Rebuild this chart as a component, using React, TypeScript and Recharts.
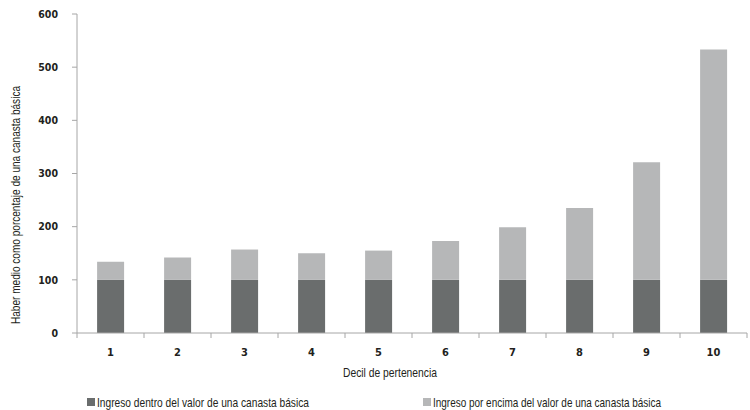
import { Bar, BarChart, Legend, XAxis, YAxis } from "recharts";

const deciles = ["1", "2", "3", "4", "5", "6", "7", "8", "9", "10"];
const dentro = [100, 100, 100, 100, 100, 100, 100, 100, 100, 100];
const encima = [34, 42, 57, 50, 55, 73, 99, 135, 221, 433];
const yTicks = [0, 100, 200, 300, 400, 500, 600];

const data = deciles.map((d, i) => ({ decil: d, dentro: dentro[i], encima: encima[i] }));

const W = 750;
const H = 410;
const M = { top: 14, right: 3, bottom: 32, left: 0 };
const Y_W = 77;
const BAND = (W - M.left - M.right - Y_W) / deciles.length;
const FONT = "'Liberation Sans', Arial, sans-serif";
const NUM_FONT = "'DejaVu Sans Condensed', 'Liberation Sans', sans-serif";
const DARK = "#6a6d6d";
const LIGHT = "#b6b7b8";
const AXIS = "#a6a6a6";
const TXT = "#231f20";

function XTick(props: any) {
  const { x, y, payload, index } = props;
  const last = index === deciles.length - 1;
  return (
    <g>
      <line x1={x - BAND / 2} x2={x - BAND / 2} y1={y} y2={y + 5} stroke={AXIS} />
      {last && <line x1={x + BAND / 2} x2={x + BAND / 2} y1={y} y2={y + 5} stroke={AXIS} />}
      <text x={x} y={y + 19} dy="0.35em" textAnchor="middle" fontSize={11} fontWeight="bold" fill={TXT} fontFamily={NUM_FONT}>
        {payload.value}
      </text>
    </g>
  );
}

function XTitle() {
  return (
    <text x={343} y={372} dy="0.35em" fontSize={13} fill={TXT} fontFamily={FONT}
      textLength={94} lengthAdjust="spacingAndGlyphs">
      Decil de pertenencia
    </text>
  );
}

function YTitle() {
  const cx = 15;
  const cy = 205;
  return (
    <text x={cx} y={cy} dy="0.35em" textAnchor="middle" fontSize={13} fill={TXT} fontFamily={FONT}
      textLength={238} lengthAdjust="spacingAndGlyphs" transform={`rotate(-90, ${cx}, ${cy})`}>
      Haber medio como porcentaje de una canasta básica
    </text>
  );
}

function LegendBox() {
  const items = [
    { label: "Ingreso dentro del valor de una canasta básica", color: DARK, left: 87, len: 212 },
    { label: "Ingreso por encima del valor de una canasta básica", color: LIGHT, left: 423, len: 228 },
  ];
  return (
    <svg width={W} height={18} style={{ display: "block" }}>
      {items.map((it) => (
        <g key={it.label}>
          <rect x={it.left} y={5} width={8} height={8} fill={it.color} />
          <text x={it.left + 10} y={9} dy="0.35em" fontSize={13} fill={TXT} fontFamily={FONT}
            textLength={it.len} lengthAdjust="spacingAndGlyphs">
            {it.label}
          </text>
        </g>
      ))}
    </svg>
  );
}

export default function App() {
  return (
    <div style={{ position: "absolute", left: 0, top: 0, width: W, height: H, background: "#fff" }}>
      <BarChart width={W} height={H} data={data} margin={M} barCategoryGap="30%">
        <XAxis
          dataKey="decil"
          height={45}
          axisLine={{ stroke: AXIS }}
          tickLine={false}
          tickSize={0}
          tickMargin={0}
          tick={<XTick />}
          interval={0}
          label={<XTitle />}
        />
        <YAxis
          width={Y_W}
          domain={[0, 600]}
          ticks={yTicks}
          interval={0}
          axisLine={{ stroke: AXIS }}
          tickLine={{ stroke: AXIS }}
          tickSize={5}
          tickMargin={14}
          tick={{ fontSize: 10.5, fontWeight: "bold", fill: TXT, fontFamily: NUM_FONT }}
          label={<YTitle />}
        />
        <Legend
          layout="horizontal"
          verticalAlign="middle"
          content={<LegendBox />}
          wrapperStyle={{ left: 0, top: 393, width: W }}
        />
        <Bar dataKey="dentro" stackId="a" fill={DARK} isAnimationActive={false} />
        <Bar dataKey="encima" stackId="a" fill={LIGHT} isAnimationActive={false} />
      </BarChart>
    </div>
  );
}
